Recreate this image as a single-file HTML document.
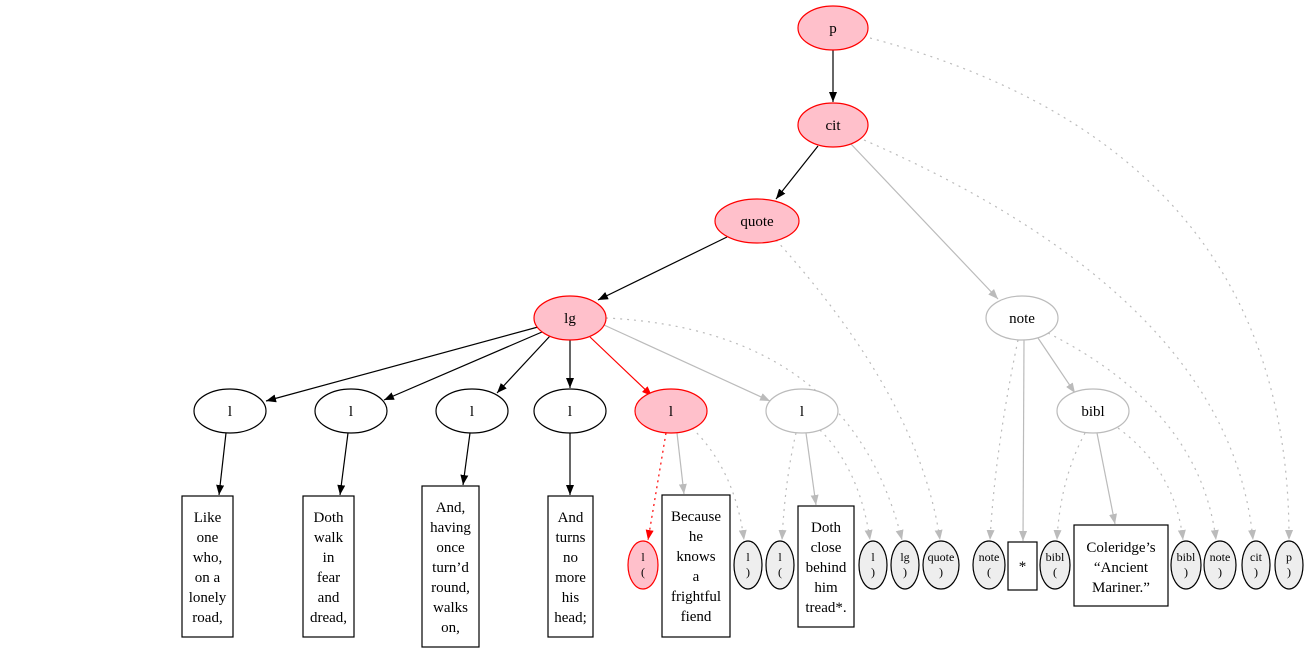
<!DOCTYPE html>
<html><head><meta charset="utf-8"><style>
html,body{margin:0;padding:0;background:#fff;}
svg{display:block;font-family:"Liberation Serif",serif;}
</style></head><body>
<svg width="1309" height="653" viewBox="0 0 1309 653" xmlns="http://www.w3.org/2000/svg">
<defs>
<marker id="mb" markerWidth="10" markerHeight="8" refX="10" refY="4" orient="auto" markerUnits="userSpaceOnUse"><path d="M0,0 L10,4 L0,8 Z" fill="#000"/></marker>
<marker id="mg" markerWidth="10" markerHeight="8" refX="10" refY="4" orient="auto" markerUnits="userSpaceOnUse"><path d="M0,0 L10,4 L0,8 Z" fill="#bbb"/></marker>
<marker id="mr" markerWidth="10" markerHeight="8" refX="10" refY="4" orient="auto" markerUnits="userSpaceOnUse"><path d="M0,0 L10,4 L0,8 Z" fill="#f00"/></marker>
</defs>
<g fill="none" stroke-width="1.2">
<!-- solid black -->
<g stroke="#000" marker-end="url(#mb)">
<line x1="833" y1="50" x2="833" y2="102"/>
<line x1="818" y1="146" x2="776" y2="199"/>
<line x1="727" y1="237" x2="598" y2="300"/>
<line x1="538" y1="327" x2="266" y2="401"/>
<line x1="542" y1="332" x2="384" y2="400"/>
<line x1="550" y1="336" x2="497" y2="393"/>
<line x1="570" y1="340" x2="570" y2="388"/>
<line x1="226" y1="433" x2="219" y2="495"/>
<line x1="348" y1="433" x2="340" y2="495"/>
<line x1="470" y1="433" x2="463" y2="485"/>
<line x1="570" y1="433" x2="570" y2="495"/>
</g>
<!-- red -->
<line x1="590" y1="337" x2="652" y2="396" stroke="#f00" marker-end="url(#mr)"/>
<line x1="666" y1="433" x2="648" y2="540" stroke="#f00" stroke-dasharray="2,4" marker-end="url(#mr)"/>
<!-- gray solid -->
<g stroke="#bbb" marker-end="url(#mg)">
<line x1="850" y1="143" x2="998" y2="299"/>
<line x1="604" y1="325" x2="770" y2="401"/>
<line x1="1038" y1="338" x2="1075" y2="393"/>
<line x1="1024" y1="340" x2="1023" y2="541"/>
<line x1="1097" y1="433" x2="1115" y2="524"/>
<line x1="677" y1="433" x2="684" y2="494"/>
<line x1="806" y1="433" x2="816" y2="505"/>
</g>
<!-- gray dotted -->
<g stroke="#bbb" stroke-dasharray="2,5" marker-end="url(#mg)">
<path d="M692,428 Q735,470 744,540"/>
<path d="M796,433 Q785,480 782,540"/>
<path d="M820,430 Q860,470 870,540"/>
<path d="M606,318 Q850,330 902,540"/>
<path d="M776,240 Q920,400 940,540"/>
<path d="M1018,340 Q995,450 990,540"/>
<path d="M1085,433 Q1060,480 1057,540"/>
<path d="M1118,428 Q1175,470 1183,540"/>
<path d="M1048,333 Q1200,410 1216,540"/>
<path d="M864,140 Q1230,300 1253,540"/>
<path d="M870,38 Q1290,150 1289,540"/>
</g>
</g>
<!-- nodes -->
<g stroke-width="1.2" font-size="15" text-anchor="middle">
<ellipse cx="833" cy="28" rx="35" ry="22" fill="#ffc0cb" stroke="#f00"/><text x="833" y="33">p</text>
<ellipse cx="833" cy="125" rx="35" ry="22" fill="#ffc0cb" stroke="#f00"/><text x="833" y="130">cit</text>
<ellipse cx="757" cy="221" rx="42" ry="22" fill="#ffc0cb" stroke="#f00"/><text x="757" y="226">quote</text>
<ellipse cx="570" cy="318" rx="36" ry="22" fill="#ffc0cb" stroke="#f00"/><text x="570" y="323">lg</text>
<ellipse cx="1022" cy="318" rx="36" ry="22" fill="#fff" stroke="#bbb"/><text x="1022" y="323">note</text>
<ellipse cx="230" cy="411" rx="36" ry="22" fill="#fff" stroke="#000"/><text x="230" y="416">l</text>
<ellipse cx="351" cy="411" rx="36" ry="22" fill="#fff" stroke="#000"/><text x="351" y="416">l</text>
<ellipse cx="472" cy="411" rx="36" ry="22" fill="#fff" stroke="#000"/><text x="472" y="416">l</text>
<ellipse cx="570" cy="411" rx="36" ry="22" fill="#fff" stroke="#000"/><text x="570" y="416">l</text>
<ellipse cx="671" cy="411" rx="36" ry="22" fill="#ffc0cb" stroke="#f00"/><text x="671" y="416">l</text>
<ellipse cx="802" cy="411" rx="36" ry="22" fill="#fff" stroke="#bbb"/><text x="802" y="416">l</text>
<ellipse cx="1093" cy="411" rx="36" ry="22" fill="#fff" stroke="#bbb"/><text x="1093" y="416">bibl</text>

<rect x="182" y="496" width="51" height="141" fill="#fff" stroke="#000"/>
<text x="207.5" y="522">Like</text><text x="207.5" y="542">one</text><text x="207.5" y="562">who,</text><text x="207.5" y="582">on a</text><text x="207.5" y="602">lonely</text><text x="207.5" y="622">road,</text>
<rect x="303" y="496" width="51" height="141" fill="#fff" stroke="#000"/>
<text x="328.5" y="522">Doth</text><text x="328.5" y="542">walk</text><text x="328.5" y="562">in</text><text x="328.5" y="582">fear</text><text x="328.5" y="602">and</text><text x="328.5" y="622">dread,</text>
<rect x="422" y="486" width="57" height="161" fill="#fff" stroke="#000"/>
<text x="450.5" y="512">And,</text><text x="450.5" y="532">having</text><text x="450.5" y="552">once</text><text x="450.5" y="572">turn’d</text><text x="450.5" y="592">round,</text><text x="450.5" y="612">walks</text><text x="450.5" y="632">on,</text>
<rect x="548" y="496" width="45" height="141" fill="#fff" stroke="#000"/>
<text x="570.5" y="522">And</text><text x="570.5" y="542">turns</text><text x="570.5" y="562">no</text><text x="570.5" y="582">more</text><text x="570.5" y="602">his</text><text x="570.5" y="622">head;</text>
<rect x="662" y="495" width="68" height="142" fill="#fff" stroke="#000"/>
<text x="696" y="521">Because</text><text x="696" y="541">he</text><text x="696" y="561">knows</text><text x="696" y="581">a</text><text x="696" y="601">frightful</text><text x="696" y="621">fiend</text>
<rect x="798" y="506" width="56" height="121" fill="#fff" stroke="#000"/>
<text x="826" y="532">Doth</text><text x="826" y="552">close</text><text x="826" y="572">behind</text><text x="826" y="592">him</text><text x="826" y="612">tread*.</text>
<rect x="1008" y="542" width="29" height="48" fill="#fff" stroke="#000"/><text x="1022.5" y="571">*</text>
<rect x="1074" y="525" width="94" height="81" fill="#fff" stroke="#000"/>
<text x="1121" y="552">Coleridge’s</text><text x="1121" y="572">“Ancient</text><text x="1121" y="592">Mariner.”</text>
</g>
<g stroke-width="1.2" font-size="12" text-anchor="middle">
<ellipse cx="643" cy="565" rx="15" ry="24" fill="#ffc0cb" stroke="#f00"/><text x="643" y="561">l</text><text x="643" y="576">(</text>
<ellipse cx="748" cy="565" rx="14" ry="24" fill="#eee" stroke="#000"/><text x="748" y="561">l</text><text x="748" y="576">)</text>
<ellipse cx="780" cy="565" rx="14" ry="24" fill="#eee" stroke="#000"/><text x="780" y="561">l</text><text x="780" y="576">(</text>
<ellipse cx="873" cy="565" rx="14" ry="24" fill="#eee" stroke="#000"/><text x="873" y="561">l</text><text x="873" y="576">)</text>
<ellipse cx="905" cy="565" rx="14" ry="24" fill="#eee" stroke="#000"/><text x="905" y="561">lg</text><text x="905" y="576">)</text>
<ellipse cx="941" cy="565" rx="18" ry="24" fill="#eee" stroke="#000"/><text x="941" y="561">quote</text><text x="941" y="576">)</text>
<ellipse cx="989" cy="565" rx="16" ry="24" fill="#eee" stroke="#000"/><text x="989" y="561">note</text><text x="989" y="576">(</text>
<ellipse cx="1055" cy="565" rx="15" ry="24" fill="#eee" stroke="#000"/><text x="1055" y="561">bibl</text><text x="1055" y="576">(</text>
<ellipse cx="1186" cy="565" rx="15" ry="24" fill="#eee" stroke="#000"/><text x="1186" y="561">bibl</text><text x="1186" y="576">)</text>
<ellipse cx="1220" cy="565" rx="16" ry="24" fill="#eee" stroke="#000"/><text x="1220" y="561">note</text><text x="1220" y="576">)</text>
<ellipse cx="1256" cy="565" rx="14" ry="24" fill="#eee" stroke="#000"/><text x="1256" y="561">cit</text><text x="1256" y="576">)</text>
<ellipse cx="1289" cy="565" rx="14" ry="24" fill="#eee" stroke="#000"/><text x="1289" y="561">p</text><text x="1289" y="576">)</text>
</g>
</svg>
</body></html>
